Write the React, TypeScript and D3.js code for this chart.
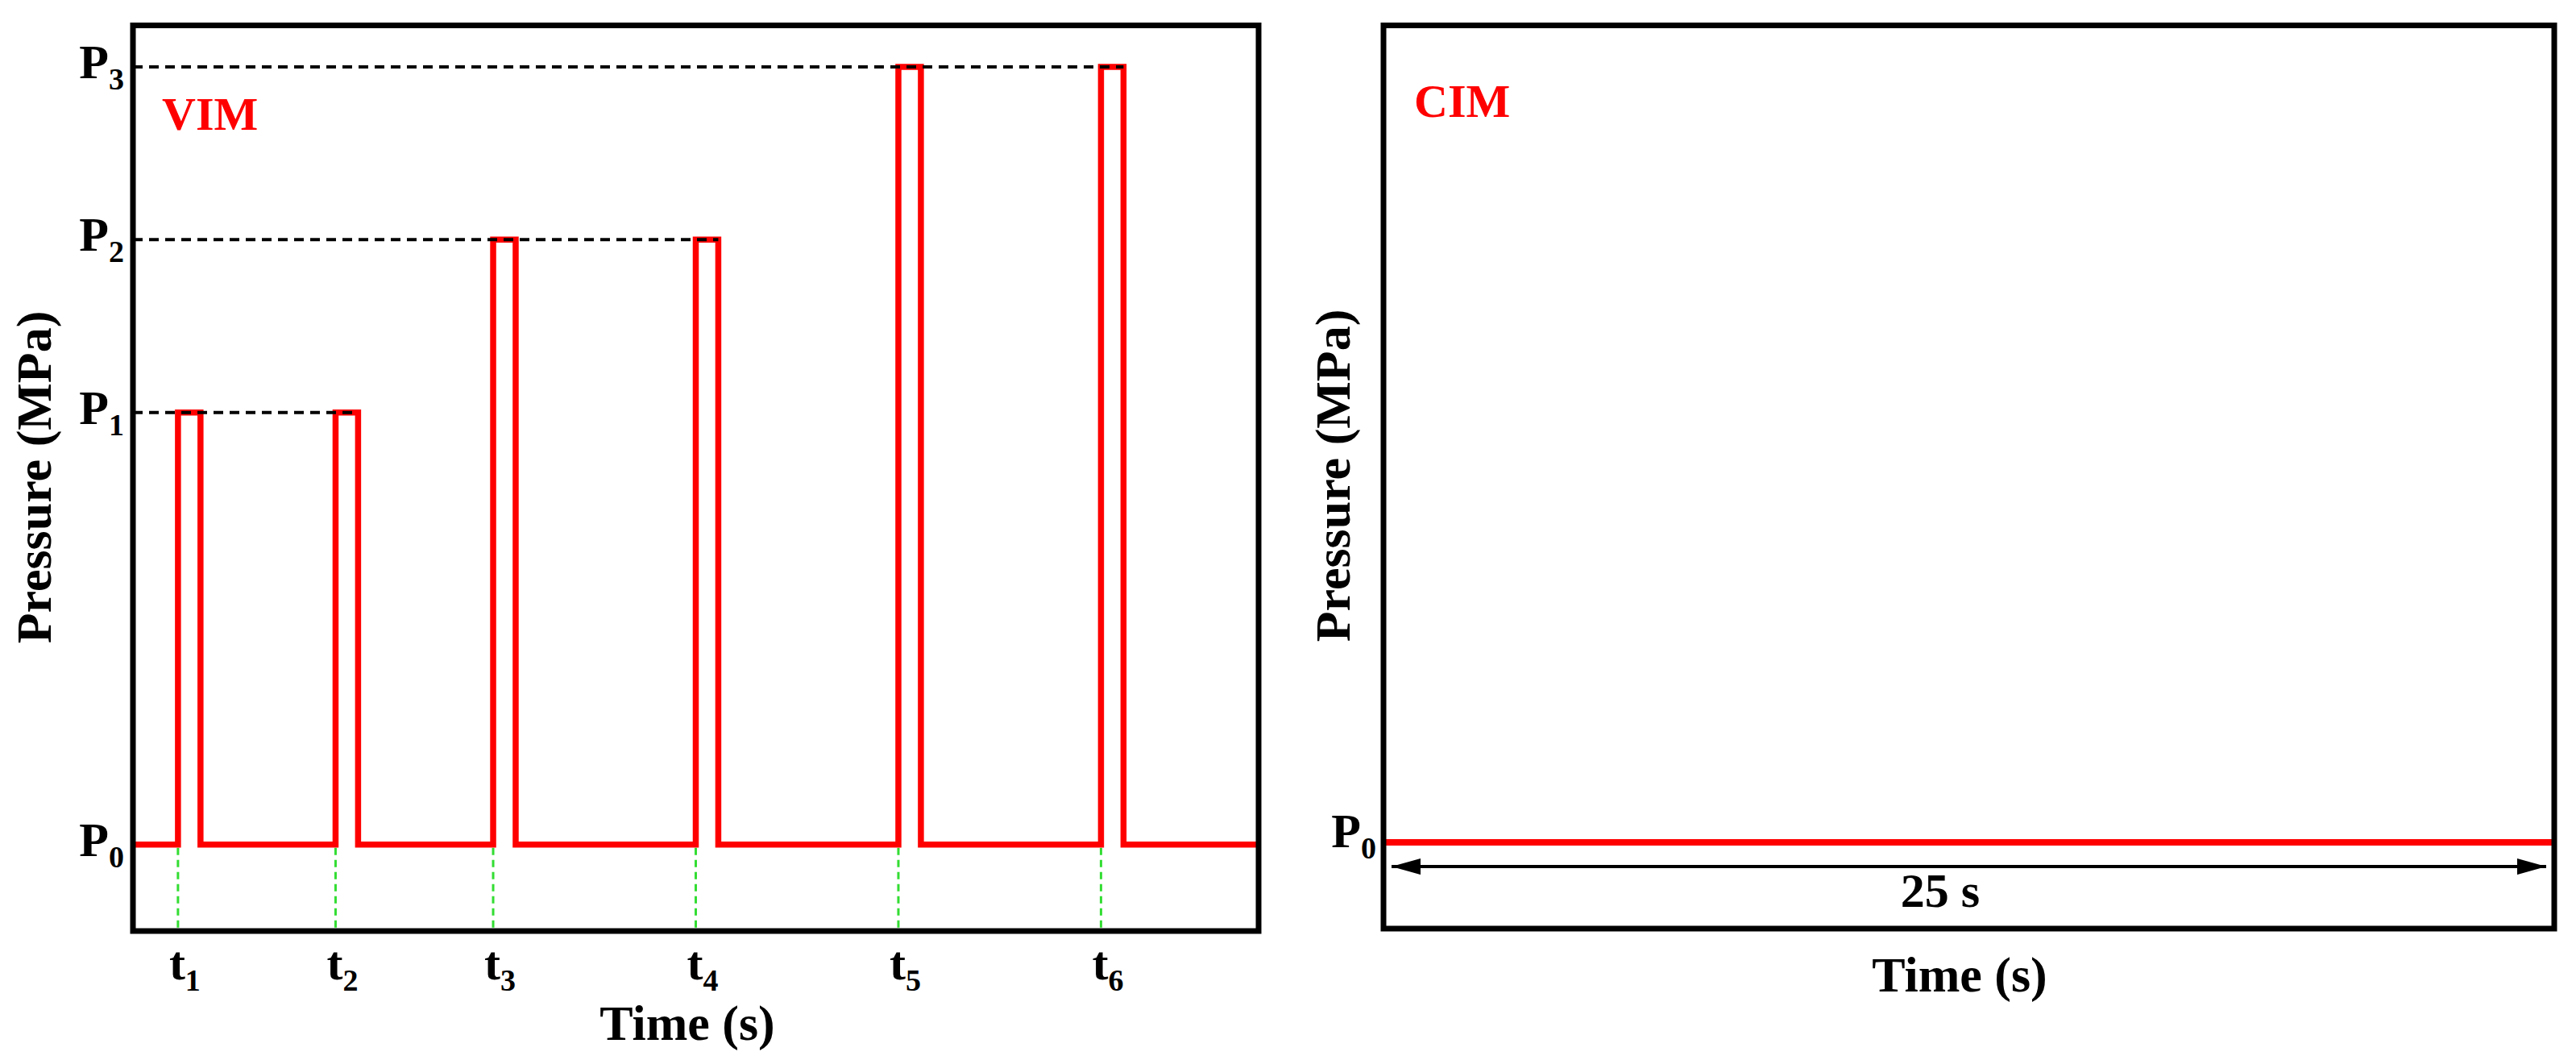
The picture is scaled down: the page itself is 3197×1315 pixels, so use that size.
import React from "react";
import * as d3 from "d3";

// ---- data ----
const T_END = 25; // s
const pulseStarts = [1, 4.5, 8, 12.5, 17, 21.5];
const pulseWidth = 0.5;
const pulseLevels = [3.5, 3.5, 4.5, 4.5, 5.5, 5.5];
const P0 = 1;
const pressureLevels = [1, 3.5, 4.5, 5.5];
const pressureSubs = ["0", "1", "2", "3"];
const timeSubs = ["1", "2", "3", "4", "5", "6"];
const cimDuration = 25;
const cimLabel = "25 s";
const Y_DOMAIN: [number, number] = [0.5, 5.74];

const FONT = "'Liberation Serif', 'Times New Roman', Times, serif";
const RED = "#ff0000";
const GREEN = "#33dd33";

export default function App() {
  const xL = d3.scaleLinear().domain([0, T_END]).range([165, 1562]);
  const yL = d3.scaleLinear().domain(Y_DOMAIN).range([1155, 31.5]);
  const xR = d3.scaleLinear().domain([0, cimDuration]).range([1717, 3170]);
  const yR = d3.scaleLinear().domain(Y_DOMAIN).range([1152, 31.5]);

  // step series for VIM
  const pts: [number, number][] = [[0, P0]];
  pulseStarts.forEach((s, i) => {
    pts.push([s, pulseLevels[i]]);
    pts.push([s + pulseWidth, P0]);
  });
  pts.push([T_END, P0]);
  const stepLine = d3
    .line<[number, number]>()
    .x((d) => xL(d[0]))
    .y((d) => yL(d[1]))
    .curve(d3.curveStepAfter);

  const cimLine = d3
    .line<[number, number]>()
    .x((d) => xR(d[0]))
    .y((d) => yR(d[1]));

  // dashed reference lines: end at the last pulse of each level
  const refLines = pressureLevels.slice(1).map((lv) => {
    let end = 0;
    pulseStarts.forEach((s, i) => {
      if (pulseLevels[i] === lv) end = Math.max(end, s + pulseWidth);
    });
    return { lv, end };
  });

  const [lx0, lx1] = xL.range();
  const [ly0, ly1] = yL.range();
  const [rx0, rx1] = xR.range();
  const [ry0, ry1] = yR.range();

  const mainSize = 60;
  const subSize = 38;
  const titleSize = 62;

  const arrowY = yR(P0) + 30;

  return (
    <svg
      width={3197}
      height={1315}
      style={{ position: "absolute", left: 0, top: 0, background: "#fff" }}
      fontFamily={FONT}
      fontWeight="bold"
    >
      <defs>
        <marker
          id="ahEnd"
          markerUnits="userSpaceOnUse"
          viewBox="0 0 36 20"
          refX={36}
          refY={10}
          markerWidth={36}
          markerHeight={20}
          orient="auto"
        >
          <path d="M0,0 L36,10 L0,20 Z" fill="#000" />
        </marker>
        <marker
          id="ahStart"
          markerUnits="userSpaceOnUse"
          viewBox="0 0 36 20"
          refX={0}
          refY={10}
          markerWidth={36}
          markerHeight={20}
          orient="auto"
        >
          <path d="M36,0 L0,10 L36,20 Z" fill="#000" />
        </marker>
      </defs>

      {/* ===== Left panel (VIM) ===== */}
      {/* green time markers */}
      {pulseStarts.map((s, i) => (
        <line
          key={"g" + i}
          x1={xL(s)}
          x2={xL(s)}
          y1={yL(P0) + 4}
          y2={ly0}
          stroke={GREEN}
          strokeWidth={3}
          strokeDasharray="9,6"
        />
      ))}
      <path d={stepLine(pts) || ""} fill="none" stroke={RED} strokeWidth={7.5} strokeLinejoin="miter" />
      {refLines.map((r, i) => (
        <line
          key={"r" + i}
          x1={lx0}
          x2={xL(r.end)}
          y1={yL(r.lv)}
          y2={yL(r.lv)}
          stroke="#000"
          strokeWidth={4}
          strokeDasharray="12,8"
        />
      ))}
      <rect
        x={lx0}
        y={ly1}
        width={lx1 - lx0}
        height={ly0 - ly1}
        fill="none"
        stroke="#000"
        strokeWidth={7}
      />
      {/* P labels */}
      {pressureLevels.map((lv, i) => (
        <text key={"p" + i} x={154} y={yL(lv) + 14} textAnchor="end" fontSize={mainSize} fill="#000">
          P
          <tspan fontSize={subSize} dy={14}>
            {pressureSubs[i]}
          </tspan>
        </text>
      ))}
      {/* t labels */}
      {pulseStarts.map((s, i) => (
        <text key={"t" + i} x={xL(s) - 11} y={1215} fontSize={mainSize} fill="#000">
          t
          <tspan fontSize={subSize} dy={14}>
            {timeSubs[i]}
          </tspan>
        </text>
      ))}
      <text x={201} y={161} fontSize={58} fill={RED}>
        VIM
      </text>
      <text x={853} y={1290} textAnchor="middle" fontSize={titleSize} fill="#000">
        Time (s)
      </text>
      <text
        transform={`translate(63,592) rotate(-90)`}
        textAnchor="middle"
        fontSize={titleSize}
        fill="#000"
      >
        Pressure (MPa)
      </text>

      {/* ===== Right panel (CIM) ===== */}
      <path
        d={cimLine([
          [0, P0],
          [cimDuration, P0],
        ]) || ""}
        fill="none"
        stroke={RED}
        strokeWidth={8}
      />
      <line
        x1={xR(0) + 10}
        x2={xR(cimDuration) - 10}
        y1={arrowY}
        y2={arrowY}
        stroke="#000"
        strokeWidth={4}
        markerStart="url(#ahStart)"
        markerEnd="url(#ahEnd)"
      />
      <text x={2408} y={1125} textAnchor="middle" fontSize={mainSize} fill="#000">
        {cimLabel}
      </text>
      <rect
        x={rx0}
        y={ry1}
        width={rx1 - rx0}
        height={ry0 - ry1}
        fill="none"
        stroke="#000"
        strokeWidth={7}
      />
      <text x={1708} y={yR(P0) + 6} textAnchor="end" fontSize={mainSize} fill="#000">
        P
        <tspan fontSize={subSize} dy={14}>
          {pressureSubs[0]}
        </tspan>
      </text>
      <text x={1755} y={145} fontSize={58} fill={RED}>
        CIM
      </text>
      <text x={2432} y={1230} textAnchor="middle" fontSize={titleSize} fill="#000">
        Time (s)
      </text>
      <text
        transform={`translate(1675,590) rotate(-90)`}
        textAnchor="middle"
        fontSize={titleSize}
        fill="#000"
      >
        Pressure (MPa)
      </text>
    </svg>
  );
}
